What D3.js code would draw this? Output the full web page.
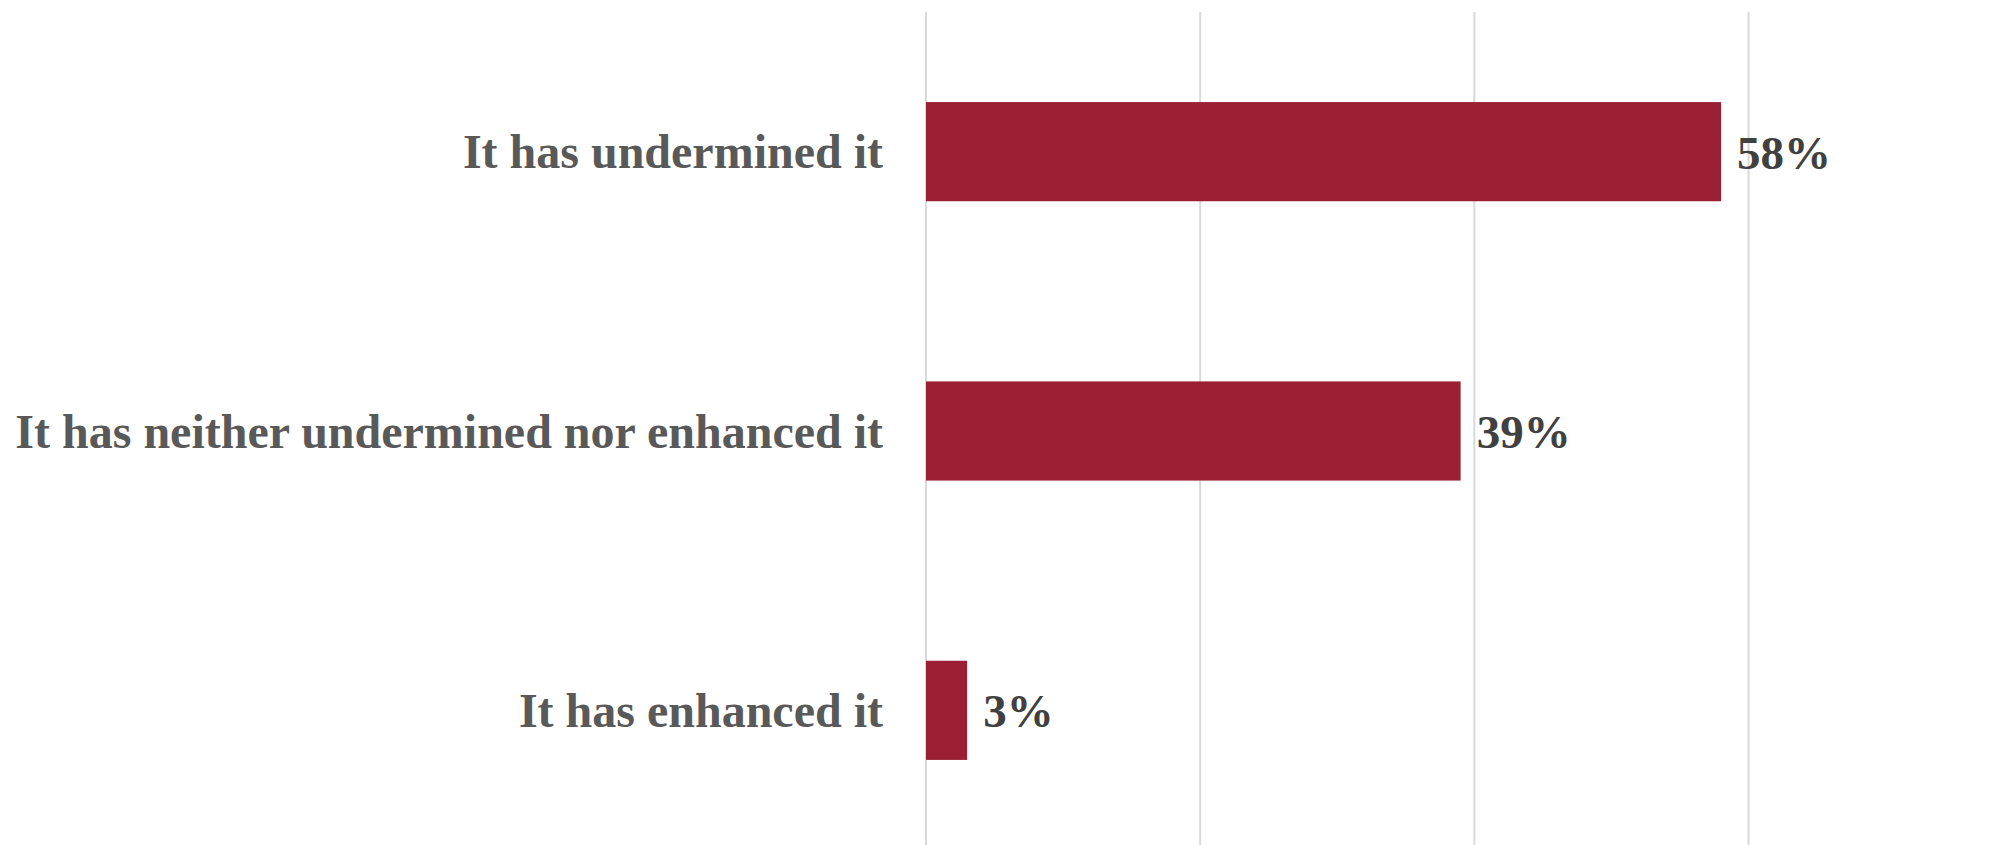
<!DOCTYPE html>
<html>
<head>
<meta charset="utf-8">
<script src="https://cdn.jsdelivr.net/npm/d3@7"></script>
<style>
  html, body { margin: 0; padding: 0; background: #ffffff; }
  svg { display: block; }
</style>
</head>
<body>
<svg id="chart" width="2004" height="845"></svg>
<script>
const categories = [
  "It has undermined it",
  "It has neither undermined nor enhanced it",
  "It has enhanced it"
];
const values = [0.58, 0.39, 0.03];
const gridTicks = [0, 0.2, 0.4, 0.6];

const svg = d3.select("#chart");

const x = d3.scaleLinear().domain([0, 0.6]).range([926, 1748.5]);
const y = d3.scaleBand().domain(categories).range([12, 850])
  .paddingInner(0.645).paddingOuter(0.3225);

// gridlines
svg.append("g").selectAll("line").data(gridTicks).join("line")
  .attr("x1", d => x(d)).attr("x2", d => x(d))
  .attr("y1", 12).attr("y2", 845)
  .attr("stroke", "#d9d9d9").attr("stroke-width", 2);

// bars
svg.append("g").selectAll("rect").data(categories).join("rect")
  .attr("x", x(0))
  .attr("y", d => y(d))
  .attr("width", (d, i) => x(values[i]) - x(0))
  .attr("height", y.bandwidth())
  .attr("fill", "#9a1f33");

// category labels
svg.append("g").selectAll("text").data(categories).join("text")
  .attr("x", 883)
  .attr("y", d => y(d) + y.bandwidth() / 2)
  .attr("dy", "0.35em")
  .attr("text-anchor", "end")
  .attr("font-family", "'Liberation Serif', 'Times New Roman', serif")
  .attr("font-weight", "bold")
  .attr("font-size", 48)
  .attr("fill", "#595959")
  .text(d => d);

// value labels
svg.append("g").selectAll("text").data(categories).join("text")
  .attr("x", (d, i) => x(values[i]) + 16)
  .attr("y", d => y(d) + y.bandwidth() / 2)
  .attr("dy", "0.36em")
  .attr("font-family", "'Liberation Serif', 'Times New Roman', serif")
  .attr("font-weight", "bold")
  .attr("font-size", 47)
  .attr("fill", "#404040")
  .text((d, i) => d3.format(".0%")(values[i]));
</script>
</body>
</html>
